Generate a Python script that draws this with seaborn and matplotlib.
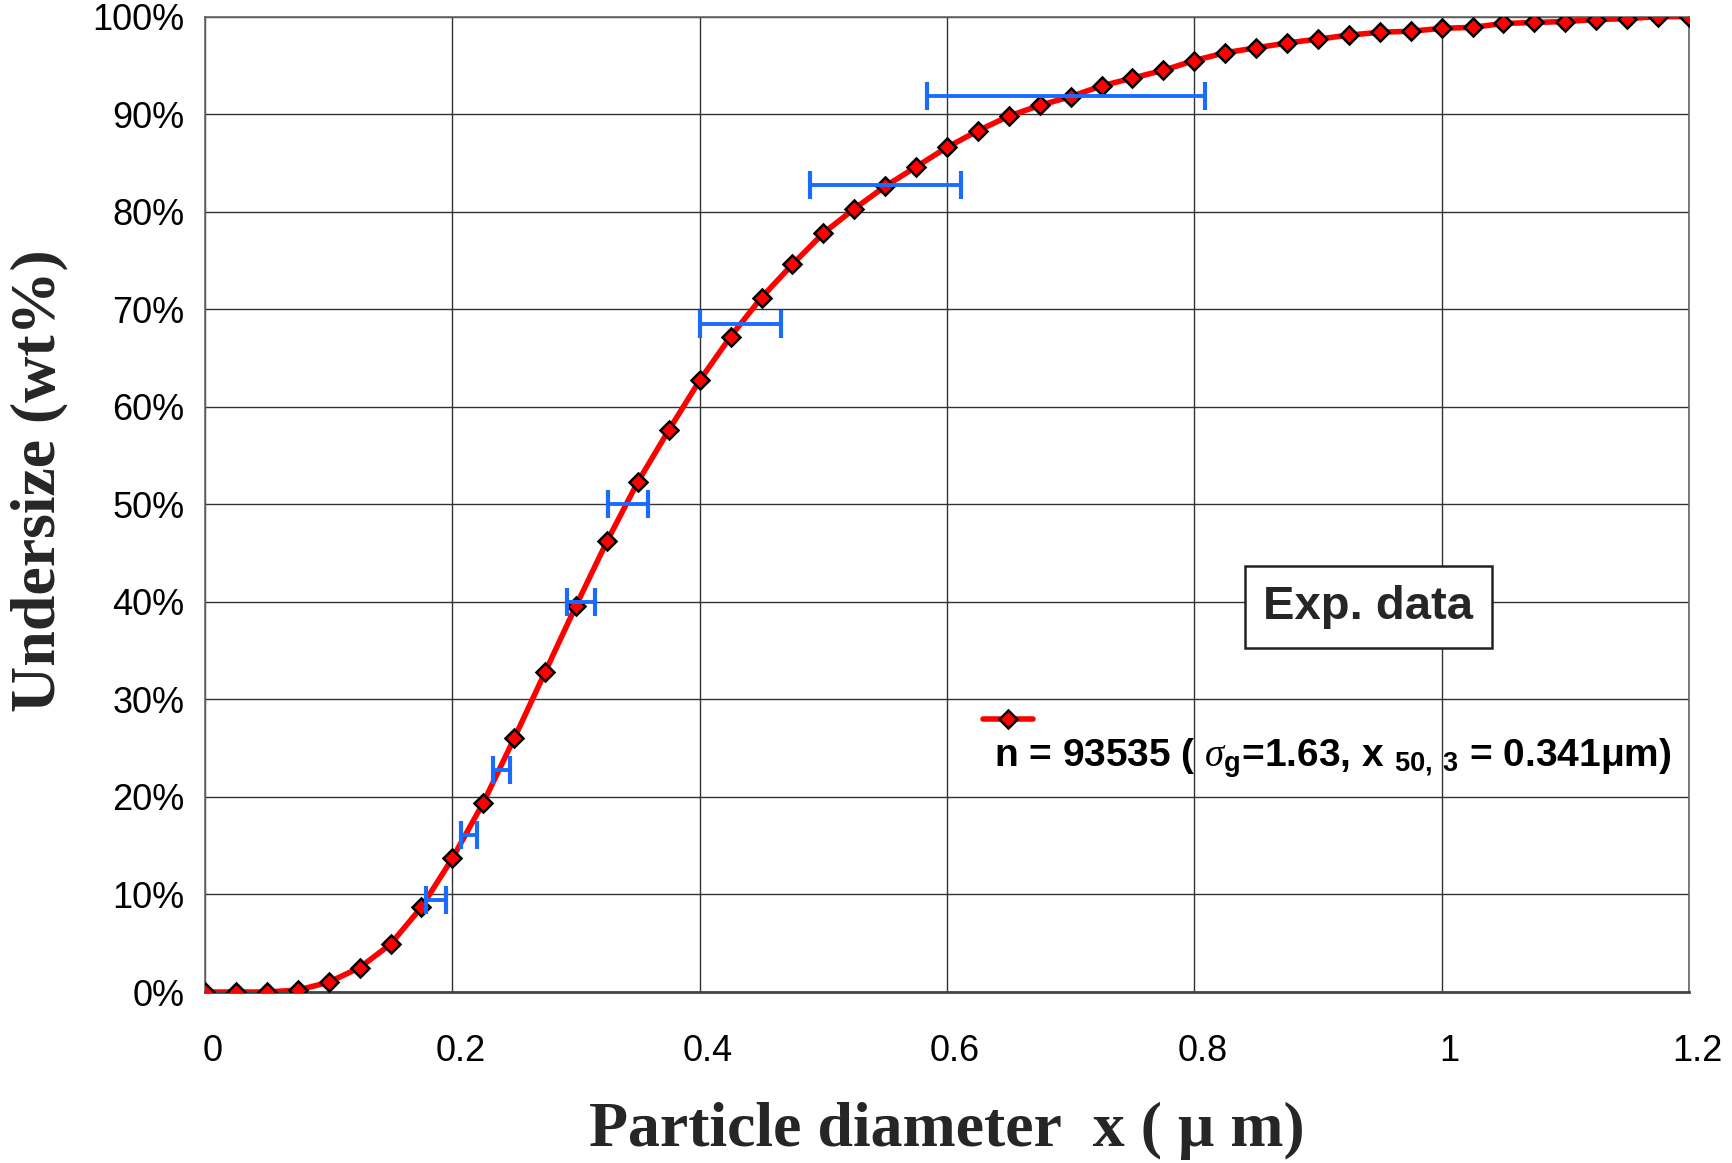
import numpy as np
import pandas as pd
import matplotlib
matplotlib.use("Agg")
import matplotlib.pyplot as plt
import matplotlib.transforms as mtransforms
import seaborn as sns
from matplotlib.lines import Line2D

# ---- data ----
diameter_um = [0.000, 0.025, 0.050, 0.075, 0.100, 0.125, 0.150, 0.175, 0.200, 0.225,
               0.250, 0.275, 0.300, 0.325, 0.350, 0.375, 0.400, 0.425, 0.450, 0.475,
               0.500, 0.525, 0.550, 0.575, 0.600, 0.625, 0.650, 0.675, 0.700, 0.725,
               0.750, 0.775, 0.800, 0.825, 0.850, 0.875, 0.900, 0.925, 0.950, 0.975,
               1.000, 1.025, 1.050, 1.075, 1.100, 1.125, 1.150, 1.175, 1.200]
undersize_pct = [0.0, 0.0, 0.0, 0.2, 1.0, 2.5, 4.9, 8.7, 13.7, 19.4,
                 26.0, 32.8, 39.6, 46.2, 52.3, 57.6, 62.7, 67.2, 71.2, 74.6,
                 77.8, 80.3, 82.6, 84.6, 86.6, 88.3, 89.8, 90.9, 91.8, 92.9,
                 93.7, 94.5, 95.5, 96.3, 96.8, 97.3, 97.7, 98.1, 98.4, 98.5,
                 98.8, 98.9, 99.3, 99.4, 99.5, 99.7, 99.8, 100.0, 100.0]

# experimental data: horizontal ranges at given undersize levels
exp_level_pct = [9.4, 16.1, 22.8, 40.0, 50.0, 68.5, 82.7, 91.9]
exp_x_low = [0.179, 0.207, 0.233, 0.293, 0.326, 0.400, 0.489, 0.584]
exp_x_high = [0.195, 0.220, 0.247, 0.315, 0.358, 0.466, 0.611, 0.809]

x_ticks = [0, 0.2, 0.4, 0.6, 0.8, 1.0, 1.2]
x_tick_labels = ["0", "0.2", "0.4", "0.6", "0.8", "1", "1.2"]
y_ticks = list(range(0, 101, 10))
y_tick_labels = [f"{v}%" for v in y_ticks]

legend_label = r"n = 93535 ( $\sigma_\mathregular{g}$=1.63, x $_\mathregular{50,\ 3}$ = 0.341μm)"

# ---- plot ----
sns.set_theme(style="white")
plt.rcParams["font.family"] = ["Liberation Sans", "DejaVu Sans"]
plt.rcParams["mathtext.fontset"] = "custom"
plt.rcParams["mathtext.it"] = "Liberation Serif:italic"
plt.rcParams["mathtext.rm"] = "Liberation Sans:bold"

fig = plt.figure(figsize=(17.33, 11.63), dpi=100)
ax = fig.add_axes([0.1183, 0.147, 0.8563, 0.8387])

df = pd.DataFrame({"x": diameter_um, "y": undersize_pct})
sns.lineplot(data=df, x="x", y="y", ax=ax, color="#ff0000", linewidth=4.0,
             marker="D", markersize=9, markerfacecolor="#ff0000",
             markeredgecolor="black", markeredgewidth=1.8, zorder=3)

exp = pd.DataFrame({"lo": exp_x_low, "hi": exp_x_high, "y": exp_level_pct})
exp["c"] = (exp["lo"] + exp["hi"]) / 2
exp["e"] = (exp["hi"] - exp["lo"]) / 2
ax.errorbar(exp["c"], exp["y"], xerr=exp["e"], fmt="none", ecolor="#1a6cff",
            elinewidth=2.8, capsize=10, capthick=3.0, zorder=4)

ax.set_xlim(0, 1.2)
ax.set_ylim(0, 100)
ax.set_xticks(x_ticks)
ax.set_xticklabels(x_tick_labels)
ax.set_yticks(y_ticks)
ax.set_yticklabels(y_tick_labels)
ax.tick_params(axis="x", length=0, pad=30, labelsize=26, labelcolor="black")
ax.tick_params(axis="y", length=0, pad=15, labelsize=26, labelcolor="black")
shift = mtransforms.ScaledTranslation(0.08, 0, fig.dpi_scale_trans)
for lbl in ax.get_xticklabels():
    lbl.set_transform(lbl.get_transform() + shift)
ax.grid(True, color="#333333", linewidth=1.0)
ax.set_axisbelow(True)
for s in ax.spines.values():
    s.set_visible(True)
    s.set_color("#666666")
    s.set_linewidth(1.2)
ax.spines["bottom"].set_color("#444444")
ax.spines["bottom"].set_linewidth(2.0)

ax.set_xlabel("Particle diameter  x ( μ m)", family="Liberation Serif",
              fontweight="bold", fontsize=46)
ax.set_ylabel("Undersize (wt%)", family="Liberation Serif",
              fontweight="bold", fontsize=46)
ax.xaxis.set_label_coords(0.5, -0.113)
ax.yaxis.set_label_coords(-0.092, 0.524)

# legend
key = Line2D([0.524, 0.558], [0.280, 0.280], transform=ax.transAxes,
             color="#ff0000", linewidth=4.0)
ax.add_line(key)
ax.plot([0.541], [0.280], transform=ax.transAxes, marker="D", markersize=9,
        markerfacecolor="#ff0000", markeredgecolor="black", markeredgewidth=1.8)
ax.text(0.532, 0.239, legend_label, transform=ax.transAxes, fontsize=28,
        fontweight="bold", ha="left", va="center", color="black")

ax.text(0.784, 0.395, "Exp. data", transform=ax.transAxes, fontsize=34,
        fontweight="bold", family="Liberation Sans", ha="center", va="center",
        bbox=dict(boxstyle="square,pad=0.4", facecolor="white",
                  edgecolor="#222222", linewidth=1.8), zorder=5)

fig.savefig("out.png", dpi=100)
